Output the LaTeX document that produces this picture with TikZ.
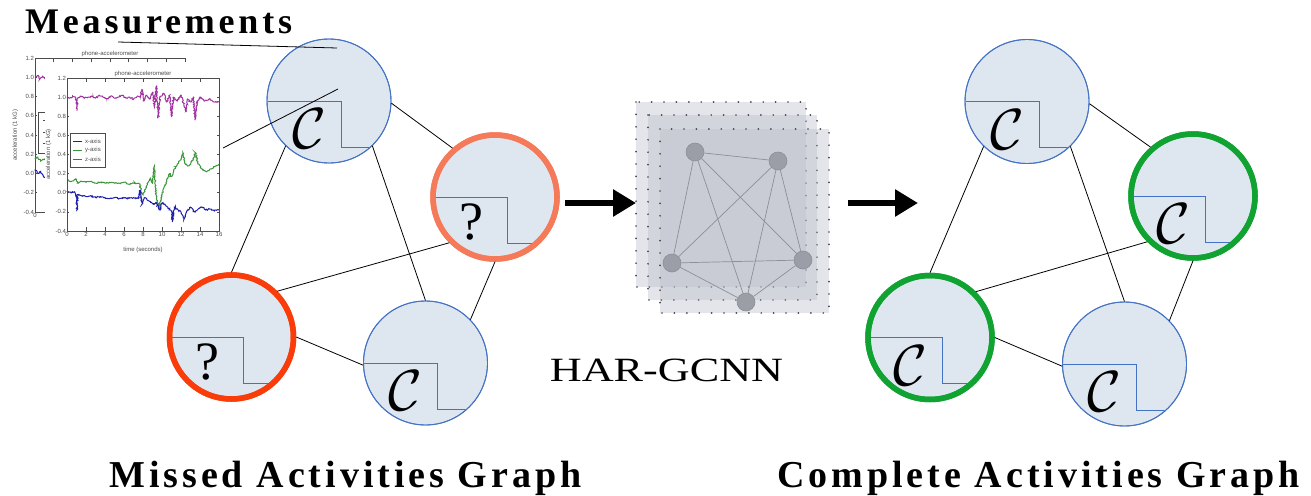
\documentclass[tikz,border=0pt]{standalone}
\usepackage{graphicx}
\usepackage{fontspec}
\setmainfont{Liberation Serif}
\newfontfamily\ttlfont[LetterSpace=10.5]{Liberation Serif}
\newfontfamily\plotfont{Liberation Sans}
\usetikzlibrary{arrows.meta,decorations.pathmorphing}
\definecolor{cfill}{RGB}{222,230,240}
\definecolor{cblue}{RGB}{68,114,196}
\definecolor{corange}{RGB}{245,122,90}
\definecolor{cred}{RGB}{250,60,10}
\definecolor{cgreen}{RGB}{16,163,50}
\definecolor{pmag}{RGB}{160,50,160}
\definecolor{pgreen}{RGB}{60,150,60}
\definecolor{pblue}{RGB}{30,30,170}
\definecolor{sqfill}{RGB}{185,189,200}
\definecolor{gnodec}{RGB}{155,158,166}
\definecolor{cgedge}{RGB}{140,143,152}
\definecolor{dotc}{RGB}{70,70,80}
\newcommand\calC{\scalebox{3.35}{\LARGE$\mathcal{C}$}}
\tikzset{
  actbase/.style={circle, minimum size=124pt, inner sep=0pt, fill=cfill},
  ringthin/.style={draw=cblue, line width=0.9pt},
  ringorange/.style={draw=corange, line width=5.5pt},
  ringred/.style={draw=cred, line width=5.5pt},
  ringgreen/.style={draw=cgreen, line width=5.5pt},
  stepline/.style={draw=cblue, line width=0.9pt},
  clabel/.style={inner sep=0pt, xshift=-20pt, yshift=-28pt},
  qlabel/.style={font=\fontsize{54}{54}\selectfont, inner sep=0pt, xshift=-24pt, yshift=-25pt},
  edge/.style={draw=black, line width=0.8pt},
  bigarrow/.style={line width=6pt, -{Triangle[length=23pt,width=26pt]}},
  sqlayer/.style={fill=sqfill, fill opacity=0.38, draw=dotc, line width=1.9pt, line cap=round, dash pattern=on 0pt off 12.4pt},
  gnode/.style={circle, fill=gnodec, draw=cgedge, line width=0.6pt, minimum size=18pt, inner sep=0pt},
  gcon/.style={draw=cgedge, line width=0.7pt},
  pframe/.style={draw=black!70, line width=0.7pt},
  ticklab/.style={font=\plotfont\fontsize{6}{6}\selectfont, text=black!70, inner sep=0.8pt},
  noisy/.style={line width=1pt, decorate, decoration={random steps, segment length=0.9pt, amplitude=0.7pt}},
  title/.style={font=\ttlfont\bfseries\fontsize{38}{42}\selectfont, anchor=base west, inner sep=0pt},
}
\newcommand\actcirc[6]{%
  \node[actbase,#4] (#1) at (#2,#3) {};
  \begin{scope}
    \clip (#2,#3) circle[radius=61.5pt];
    \draw[stepline] (#2-70,#3) -| (#2+12,#3+46) -- (#2+70,#3+46);
  \end{scope}
  \draw[#4] (#1.center) circle[radius=62pt];
  \node[#5] (#1l) at (#1.center) {#6};
}
\begin{document}
\begin{tikzpicture}[x=1pt,y=-1pt]
\pgfmathsetseed{7}
\useasboundingbox (0,0) rectangle (1311,495);
\fill[white] (0,0) rectangle (1311,495);

% ---------- back plot panel ----------
\begin{scope}[shift={(35pt,-173.5pt)}, x=9.375pt, y=96.25pt]
  \draw[pframe] (0,-0.4) rectangle (16,1.2);
  \foreach \v in {-0.4,-0.2,0.0,0.2,0.4,0.6,0.8,1.0,1.2} {
    \node[ticklab,anchor=east] at (0,\v) {\v};
    \draw[pframe] (0,\v) -- ++(0.2,0);}
  \foreach \t in {0,2,...,16} {\draw[pframe] (\t,1.2) -- ++(0,-0.04);}
  \node[ticklab,anchor=north] at (0,-0.4) {0};
  \node[ticklab,anchor=south] at (8,1.2) {phone-accelerometer};
  \node[ticklab,rotate=90] at (-2.1,0.4) {acceleration (1 kG)};
  \draw[pframe] (0.32,0.21) rectangle (3,0.64);
  \draw[pframe] (0.8,0.55) -- (1.2,0.55) (0.8,0.43) -- (1.2,0.43) (0.8,0.31) -- (1.2,0.31);
  \draw[pmag,noisy] plot coordinates {(0,1.0) (0.3,1.02) (0.5,0.98) (0.8,1.01) (1,0.99) (1.5,1.0) (2,1.01)};
  \draw[pgreen,noisy] plot coordinates {(0,0.15) (0.3,0.17) (0.6,0.13) (1,0.15) (1.5,0.14) (2,0.15)};
  \draw[pblue,noisy] plot coordinates {(0,0.04) (0.3,0.0) (0.6,0.02) (1,-0.04) (1.5,-0.03) (2,-0.04)};
\end{scope}

% ---------- front plot panel ----------
\fill[white] (45,62) rectangle (228,254);
\begin{scope}[shift={(67pt,-192.76pt)}, x=9.5pt, y=95.6pt]
  \foreach \v in {-0.4,-0.2,0.0,0.2,0.4,0.6,0.8,1.0,1.2} {
    \node[ticklab,anchor=east] at (0,\v) {\v};
    \draw[pframe] (0,\v) -- ++(0.2,0);
    \draw[pframe] (16,\v) -- ++(-0.2,0);}
  \foreach \t in {0,2,...,16} {
    \node[ticklab,anchor=north] at (\t,-0.4) {\t};
    \draw[pframe] (\t,-0.4) -- ++(0,0.04);
    \draw[pframe] (\t,1.2) -- ++(0,-0.04);}
  \node[ticklab,anchor=south] at (8,1.2) {phone-accelerometer};
  \node[ticklab] at (8,-0.6) {time (seconds)};
  \node[ticklab,rotate=90] at (-1.95,0.4) {acceleration (1 kG)};
  \draw[pmag,noisy] plot coordinates {(0,1.0) (0.3,0.99) (0.6,1.01) (0.9,1.0) (1.0,0.93) (1.05,0.86) (1.1,0.98) (1.4,1.01) (1.8,0.99) (2.2,1.0) (2.6,1.01) (3,0.99) (3.4,1.02) (3.8,1.0) (4.2,0.98) (4.6,1.01) (5,0.99) (5.4,1.0) (5.8,1.02) (6.2,0.99) (6.6,1.0) (7,0.98) (7.4,1.01) (7.7,1.0) (7.9,1.08) (8.1,0.96) (8.4,1.02) (8.7,0.98) (9.0,1.05) (9.2,0.9) (9.4,1.12) (9.6,0.78) (9.8,1.0) (10.2,1.04) (10.5,0.95) (10.8,1.02) (11.0,0.8) (11.2,1.0) (11.6,0.96) (12.0,1.02) (12.3,0.92) (12.5,0.85) (12.7,0.98) (13.0,0.95) (13.3,1.0) (13.5,0.76) (13.7,0.96) (14,1.0) (14.5,0.96) (15,0.98) (15.5,0.95) (16,0.95)};
  \draw[pgreen,noisy] plot coordinates {(0,0.13) (0.5,0.12) (1,0.14) (1.1,0.1) (1.5,0.12) (2,0.11) (2.5,0.12) (3,0.1) (3.5,0.11) (4,0.1) (4.5,0.11) (5,0.1) (5.5,0.1) (6,0.11) (6.5,0.09) (7,0.1) (7.5,0.1) (7.7,0.09) (7.8,0.0) (8.0,-0.02) (8.3,0.05) (8.6,0.12) (8.8,0.15) (9.0,0.1) (9.2,0.28) (9.3,0.05) (9.5,-0.1) (9.7,-0.15) (9.9,-0.05) (10.2,0.05) (10.5,0.12) (10.8,0.2) (11.0,0.17) (11.3,0.25) (11.6,0.3) (12.0,0.35) (12.2,0.42) (12.4,0.32) (12.7,0.28) (13.0,0.3) (13.3,0.35) (13.5,0.42) (13.8,0.3) (14.2,0.25) (14.7,0.22) (15.2,0.25) (15.7,0.28) (16,0.3)};
  \draw[pblue,noisy] plot coordinates {(0,0.02) (0.4,0.0) (0.8,0.01) (1.0,-0.05) (1.05,-0.18) (1.1,-0.02) (1.5,-0.03) (2,-0.04) (2.5,-0.03) (3,-0.05) (3.5,-0.04) (4,-0.05) (4.5,-0.06) (5,-0.05) (5.5,-0.06) (6,-0.05) (6.5,-0.06) (7,-0.05) (7.5,-0.06) (7.7,0.03) (7.9,-0.12) (8.2,-0.05) (8.5,-0.08) (8.8,-0.1) (9.1,-0.12) (9.4,-0.1) (9.6,-0.15) (9.8,-0.18) (10,-0.1) (10.3,-0.12) (10.6,-0.15) (11,-0.2) (11.1,-0.3) (11.3,-0.15) (11.7,-0.18) (12.0,-0.2) (12.3,-0.28) (12.6,-0.2) (13,-0.15) (13.4,-0.2) (13.8,-0.17) (14.2,-0.15) (14.6,-0.18) (15,-0.17) (15.5,-0.19) (16,-0.18)};
  \draw[pframe,fill=white] (0.32,0.27) rectangle (4.0,0.625);
  \draw[pblue,line width=0.9pt] (0.6,0.54) -- (1.6,0.54);
  \draw[pgreen,line width=0.9pt] (0.6,0.445) -- (1.6,0.445);
  \draw[pmag,line width=0.9pt] (0.6,0.35) -- (1.6,0.35);
  \node[ticklab,anchor=west] at (1.8,0.54) {x-axis};
  \node[ticklab,anchor=west] at (1.8,0.445) {y-axis};
  \node[ticklab,anchor=west] at (1.8,0.35) {z-axis};
  \draw[pframe] (0,-0.4) rectangle (16,1.2);
\end{scope}

% ---------- left graph ----------
\actcirc{T}{329}{101}{ringthin}{clabel}{\calC}
\actcirc{O}{495}{197}{ringorange}{qlabel}{?}
\actcirc{R}{231.5}{337}{ringred}{qlabel}{?}
\actcirc{B}{425.5}{363}{ringthin}{clabel}{\calC}
\draw[edge] (T.-2) -- (O.131);
\draw[edge] (T.226) -- (R.90);
\draw[edge] (T.314) -- (B.90);
\draw[edge] (O.225) -- (R.45);
\draw[edge] (O.270) -- (B.44);
\draw[edge] (R.0) -- (B.182);

% ---------- measurements ----------
\node[title, font=\ttlfont\bfseries\fontsize{36}{42}\selectfont] (meas) at (25,34) {Measurements};
\coordinate (m1a) at (118,42); \coordinate (m1b) at (337,48);
\coordinate (m2a) at (223,148); \coordinate (m2b) at (338,89);
\draw[edge] (m1a) -- (m1b);
\draw[edge] (m2a) -- (m2b);

% ---------- right graph ----------
\actcirc{T2}{1027}{101.5}{ringthin}{clabel}{\calC}
\actcirc{O2}{1193}{196}{ringgreen}{clabel}{\calC}
\actcirc{R2}{930}{337.5}{ringgreen}{clabel}{\calC}
\actcirc{B2}{1124.5}{364}{ringthin}{clabel}{\calC}
\draw[edge] (T2.-2) -- (O2.131);
\draw[edge] (T2.226) -- (R2.90);
\draw[edge] (T2.314) -- (B2.90);
\draw[edge] (O2.225) -- (R2.45);
\draw[edge] (O2.270) -- (B2.44);
\draw[edge] (R2.0) -- (B2.182);

% ---------- HAR-GCNN ----------
\path[sqlayer] (636,102) rectangle (806,287);
\path[sqlayer] (648,115) rectangle (817,300);
\path[sqlayer] (660,129) rectangle (829,313);
\node[gnode] (g1) at (695,152) {};
\node[gnode] (g2) at (778,161) {};
\node[gnode] (g3) at (672,263) {};
\node[gnode] (g4) at (803,260) {};
\node[gnode] (g5) at (746,302) {};
\foreach \a/\b in {g1/g2,g1/g3,g1/g4,g1/g5,g2/g3,g2/g4,g2/g5,g3/g4,g3/g5,g4/g5}
  \draw[gcon] (\a) -- (\b);
\node[font=\fontsize{34}{34}\selectfont, anchor=base, inner sep=0pt] (hg) at (666.5,381) {\scalebox{1.3}[1]{HAR-GCNN}};

% ---------- arrows ----------
\coordinate (a1s) at (565,203); \coordinate (a1e) at (636,203);
\coordinate (a2s) at (848,203); \coordinate (a2e) at (918,203);
\draw[bigarrow] (a1s) -- (a1e);
\draw[bigarrow] (a2s) -- (a2e);

% ---------- titles ----------
\node[title] (lt) at (109,487) {Missed Activities Graph};
\node[title] (rt) at (777,487) {Complete Activities Graph};
\end{tikzpicture}
\end{document}
